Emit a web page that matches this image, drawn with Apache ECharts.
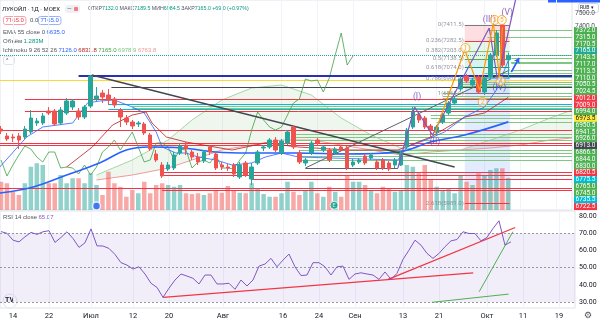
<!DOCTYPE html>
<html>
<head>
<meta charset="utf-8">
<script src="https://cdn.jsdelivr.net/npm/echarts@6/dist/echarts.min.js"></script>
<style>
  html, body { margin: 0; padding: 0; background: #fff; }
  #chart { width: 600px; height: 322px; }
</style>
</head>
<body>
<div id="chart"></div>
<script>
// ---- data (k = trading day index, 0 = 14 Jun) ----
var firstK = -2;
var opens = [6578,6522,6514,6522,6514,6554,6626,6626,6722,6722,6626,6706,6754,6722,6674,6762,6818,6866,6850,6818,
  6730,6666,6634,6618,6618,6530,6378,6290,6258,6266,6386,6450,6394,6354,6322,6434,6378,6290,6274,6290,
  6194,6306,6178,6306,6426,6434,6490,6386,6466,6594,6386,6306,6386,6490,6410,6410,6386,6434,6426,6290,
  6314,6362,6346,6314,6330,6306,6290,6290,6434,6594,6690,6666,6602,6554,6634,6706,6786,6898,7002,6930,
  6994,6874,6994,7170,7410,7132];
var closes = [6562,6498,6506,6490,6578,6666,6642,6682,6706,6618,6730,6802,6802,6674,6754,7002,6842,6834,6810,6770,
  6674,6634,6602,6626,6546,6418,6330,6202,6290,6370,6442,6418,6354,6314,6394,6394,6266,6274,6266,6218,
  6290,6210,6274,6394,6434,6490,6410,6482,6554,6434,6314,6330,6466,6466,6434,6330,6418,6410,6266,6314,
  6330,6306,6370,6266,6266,6258,6330,6386,6570,6714,6650,6594,6570,6594,6690,6786,6818,6978,6962,6970,
  6874,6986,7170,7346,7090,7165];
var lows = [6538,6482,6474,6418,6498,6538,6602,6610,6690,6602,6610,6690,6730,6650,6658,6746,6802,6786,6770,6746,
  6594,6610,6578,6594,6530,6402,6314,6186,6242,6250,6370,6370,6330,6290,6306,6370,6250,6250,6242,6194,
  6178,6194,6130,6290,6402,6418,6394,6370,6450,6418,6298,6282,6370,6442,6394,6314,6370,6394,6250,6274,
  6298,6290,6330,6250,6250,6242,6266,6282,6418,6578,6626,6578,6514,6530,6618,6690,6770,6882,6946,6914,
  6858,6850,6978,7154,7066,6984.5];
var highs = [6602,6546,6538,6546,6602,6730,6666,6706,6754,6738,6754,6826,6818,6746,6770,7010,6914,6890,6898,6834,
  6746,6690,6650,6642,6634,6546,6410,6314,6314,6394,6466,6474,6410,6386,6410,6450,6394,6314,6298,6306,
  6314,6322,6306,6410,6450,6506,6514,6498,6570,6610,6410,6346,6482,6506,6450,6426,6434,6450,6442,6338,
  6346,6378,6386,6330,6346,6322,6346,6402,6586,6754,6714,6682,6618,6610,6706,6802,6842,7002,7018,6986,
  7010,7002,7186,7370,7411.5,7189.5];
var volumes = [1.13,1.07,0.73,0.60,1.07,1.73,1.87,1.80,1.07,1.07,1.40,1.07,1.27,1.27,1.07,1.47,1.00,0.60,1.53,1.07,
  0.93,0.53,0.80,0.67,1.13,0.67,1.00,1.07,1.00,0.93,1.00,0.67,0.64,0.67,0.60,0.67,0.80,0.69,0.96,0.80,
  0.69,0.67,1.07,0.87,0.64,0.53,0.53,0.67,1.13,0.73,0.60,0.80,1.13,0.67,0.53,0.93,0.73,0.53,1.40,1.13,
  1.13,1.00,0.80,0.67,0.93,0.87,0.73,0.80,1.80,1.73,1.47,1.80,1.20,0.93,0.80,0.87,0.67,1.40,1.13,1.00,
  1.47,1.40,1.60,1.67,1.67,1.283];
var rsiValues = [71,70.0,66,65,68,70.5,69.4,70.9,71.5,64.7,67.6,70.9,67,61.8,64.5,72.6,62.7,62.6,61.2,57.7,
  52.9,51.5,49.2,50.5,46.3,40.9,38.5,32.7,38,42.8,46.3,45.1,43.8,40.5,45.7,45.7,40.5,40.5,40.9,37.4,
  42.8,39.3,42.8,50.9,52.1,55.4,50.5,54.4,57.9,50.5,45.4,45.7,52.9,52.9,50.5,45.7,50.5,50.9,43.2,46.3,
  47.0,46.3,45.7,43.2,47.5,43.2,46.7,54.8,60.2,66.0,63.1,58.3,55.4,58.3,62.2,65.6,66.4,70.9,69.9,69.9,
  65.6,67.6,72.8,77.3,63.1,65.07];

// indicator lines, [k, price]
var emaPts = [[-2.2,6066],[3.4,6114],[9,6210],[14.5,6306],[19,6410],[22.8,6434],[28.4,6426],[34,6394],
  [39.5,6386],[47.8,6386],[56,6378],[64.5,6394],[70,6474],[75.7,6530],[83,6635]];
var tenkanPts = [[-2.2,6274],[2.3,6514],[5,6594],[10,6626],[12.5,6786],[14.5,6802],[17,6810],[20,6754],
  [22,6706],[24,6554],[25,6434],[27.3,6386],[29,6386],[31,6354],[34,6330],[36.7,6290],[40,6306],[42.3,6354],
  [45,6386],[47.8,6354],[64.5,6330],[66,6434],[70,6506],[72.3,6554],[75.7,6674],[79,6754],[81,6890],[83,7126]];
var kijunPts = [[9,6274],[13.3,6434],[16.7,6610],[20,6690],[22.3,6714],[23.3,6626],[25.7,6514],[29,6474],
  [36.7,6410],[42.3,6466],[47.8,6434],[56,6410],[64.5,6410],[70,6514],[75.7,6674],[79,6706],[83,6831.8]];
var cloudK = [14,20,26,30,35,40,45,50,55,60,65,70,75,80,85,90,93.7];
var cloudA = [6210,6330,6490,6650,6810,6906,6930,6850,6666,6530,6426,6410,6410,6490,6570,6666,6730];
var cloudB = [6170,6210,6266,6330,6410,6450,6490,6490,6450,6410,6370,6394,6410,6426,6450,6490,6506];

// horizontal rays: price, kind, start k
var levelPrice = [7372,7315,7170.5,7143.5,7117,7113.5,7110,7050.5,7024.5,7012,7009,6994,6973.5,6950.5,6941.5,6926,
  6913,6866.5,6844,6830,6820.5,6775.5,6765,6745,6735.5,6722.5,
  6690,6666,6634,6570,6538,6514,6490,6466,6450,6410,6386,6362,6330,6234,6210,6178,6106,6090];
var levelKind = ['g','g','g','g','g','g','g','g','g','r','r','g','y','g','g','g',
  'd','g','g','g','r','c','g','g','c','r',
  'g','g','g','r','g','g','g','r','r','g','g','g','g','r','r','r','r','r'];
var levelStart = [79.5,79.5,83.5,83.5,83.5,83.5,83.5,83.5,79,13,13,77,-3,75,75,75,
  16.5,72,72,72,2,16,20,20,16,2,
  70,70,71,-3,47,47,47,-3,-3,48,48,48,48,25,25,40,-3,25];
var lowestAxisLabel = 6722.5;
var blueLevel = [11, 7002];

// trend lines [[k1,p1],[k2,p2]]
var trendDark = [[[13.2,7010],[74,6274]]];
var trendGray = [[[49,6266],[83.2,7050]], [[49,6266],[64.5,6266]]];
var waveI = [[64.5,6266],[67.3,6754],[70.3,6530],[79.8,7386],[81.2,6970],[84.2,7610]];
var waveLabels = ['(I)','(II)','(III)','(IV)','(V)'];
var waveLabelPts = [[67.7,6834],[70.7,6474],[79.8,7450],[81.5,6906],[82.8,7506]];
var wave1 = [[70.7,6546],[75.7,7210],[78.2,6890],[80.5,7426],[81.5,6994],[82,7394]];
var wave1Labels = ['1','2','3','4','5'];
var wave1LabelPts = [[75.8,7226],[78.7,6794],[80.7,7450],[81.7,6962],[81.9,7450]];
var arrowPts = [[83.5,7034],[84.8,7146]];
var eventPts = [[14, 5962], [53.8, 5968]];

// fib
var fibText = ['0(7411.5)','0.236(7282.5)','0.382(7203.0)','0.5(7138.5)','0.618(7074.0)','0.786(6982.0)','1(6865.0)','2.618(5981.0)'];
var fibPrice = [7411.5,7282.5,7203.0,7138.5,7074.0,6982.0,6865.0,5981.0];
var fibFromK = 75.7, fibToK = 83.2;
var posZone = [[75.7,6994],[83.3,6130],[5930]];

// RSI drawings
var rsiRed = [[[-2.2,75.3],[87.5,70.7]], [[25,32.7],[76.7,47.0]], [[62.5,43.2],[83.7,73.4]]];
var rsiGreen = [[[80.8,83.5],[83.7,54.4]], [[77.7,36],[83.3,70.9]], [[69.8,29.8],[82.6,34.6]]];

// x-axis tick labels
var tickK = [0,6,13,20,26,35,45,51,57,65,71,79,85,91];
var tickText = ['14','22','Июл','12','20','Авг','16','24','Сен','13','21','Окт','11','19'];

// ---- build ----
var TEAL = '#26A69A', RED = '#EF5350';
var xMin = -2.1667, xMax = 93.667;
var FONT = 'Roboto, "Liberation Sans", sans-serif';

var candleData = opens.map(function (o, i) {
  return [firstK + i, o, closes[i], lows[i], highs[i]];
});
var volumeData = volumes.map(function (v, i) {
  return { value: [firstK + i, v], itemStyle: { color: closes[i] >= opens[i] ? 'rgba(38,166,154,0.5)' : 'rgba(239,83,80,0.5)' } };
});
var rsiData = rsiValues.map(function (v, i) { return [firstK + i, v]; });
var chikouData = [];
for (var i = 0; i + 26 < closes.length; i++) chikouData.push([firstK + i, closes[i + 26]]);

var kindLine = { g: '#81C784', r: '#F23645', y: '#FDD835', d: '#434651', c: '#00BCD4' };
var levelData = levelPrice.map(function (p, i) { return [levelStart[i], p]; });

// label stack on the price scale
var lastClose = closes[closes.length - 1];
var stackItems = [];
levelPrice.forEach(function (p, i) { if (p >= lowestAxisLabel) stackItems.push([p, levelKind[i]]); });
stackItems.push([lastClose, 't']);
stackItems.sort(function (a, b) { return b[0] - a[0]; });
var stackSlots = ['', '', '', ''], stackKinds = ['', '', '', ''];
stackItems.forEach(function (s) { stackSlots.push(s[0].toFixed(1)); stackKinds.push(s[1]); });

function boxStyle(bg, fg) {
  return { backgroundColor: bg, color: fg || '#fff', fontSize: 6.5, lineHeight: 6.8, width: 21, align: 'center',
           padding: [0, 1, 0, 1], fontFamily: FONT };
}

function lineMarks(list, color, width) {
  return list.map(function (seg) {
    return [{ coord: seg[0], lineStyle: { color: color, width: width, type: 'solid' } }, { coord: seg[1] }];
  });
}

function textSeries(pts, texts, color, size, pos, xi, yi) {
  return {
    type: 'scatter', xAxisIndex: xi || 0, yAxisIndex: yi || 0, symbolSize: 0, silent: true, z: 12,
    data: pts.map(function (p, i) { return { value: p, name: texts[i] }; }),
    label: { show: true, formatter: '{b}', color: color, fontSize: size, position: pos, distance: 1, fontFamily: FONT }
  };
}

var fibAreaColors = ['rgba(242,54,69,0.16)','rgba(129,199,132,0.18)','rgba(76,175,80,0.14)','rgba(8,153,129,0.14)',
  'rgba(0,188,212,0.12)','rgba(100,181,246,0.12)'];
var fibLineColors = ['#787B86','#F23645','#81C784','#4CAF50','#089981','#64B5F6','#787B86','#F23645'];
var fibAreas = [];
for (var f = 0; f < fibAreaColors.length; f++) {
  fibAreas.push([{ coord: [fibFromK, fibPrice[f]], itemStyle: { color: fibAreaColors[f] } }, { coord: [fibToK, fibPrice[f + 1]] }]);
}
fibAreas.push([{ coord: [posZone[0][0], posZone[0][1]], itemStyle: { color: 'rgba(41,98,255,0.13)' } }, { coord: [posZone[1][0], posZone[1][1]] }]);
fibAreas.push([{ coord: [posZone[0][0], posZone[1][1]], itemStyle: { color: 'rgba(242,54,69,0.13)' } }, { coord: [posZone[1][0], posZone[2][0]] }]);
var fibLines = fibPrice.map(function (p, i) {
  return [{ coord: [fibFromK, p], lineStyle: { color: fibLineColors[i], width: 1, type: 'solid' } }, { coord: [fibToK, p] }];
});

var option = {
  animation: false,
  textStyle: { fontFamily: FONT },
  grid: [
    { left: 0, right: 25, top: 0, height: 210, show: true, borderColor: '#E0E3EB', borderWidth: 1 },
    { left: 0, right: 25, top: 211, height: 97, show: true, borderColor: '#E0E3EB', borderWidth: 1 }
  ],
  xAxis: [
    { type: 'value', gridIndex: 0, min: xMin, max: xMax, axisLine: { show: false },
      axisTick: { show: false, customValues: tickK }, axisLabel: { show: false, customValues: tickK },
      splitLine: { show: true, lineStyle: { color: '#F0F3FA' } } },
    { type: 'value', gridIndex: 1, min: xMin, max: xMax, axisLine: { show: false },
      axisTick: { show: false, customValues: tickK },
      axisLabel: { customValues: tickK, fontSize: 7.5, color: '#131722', margin: 4,
        formatter: function (v) { var j = tickK.indexOf(Math.round(v)); return j >= 0 ? tickText[j] : ''; } },
      splitLine: { show: true, lineStyle: { color: '#F0F3FA' } } }
  ],
  yAxis: [
    { type: 'value', gridIndex: 0, position: 'right', min: 5930, max: 7610, scale: true,
      axisLine: { show: false }, axisTick: { show: false }, splitLine: { show: false },
      axisLabel: { customValues: [7400, 7500], fontSize: 6.5, color: '#50535E', margin: 3,
        formatter: function (v) { return v.toFixed(1); } } },
    { type: 'value', gridIndex: 0, min: 0, max: 8.4, show: false },
    { type: 'category', gridIndex: 0, position: 'right', inverse: true, data: stackSlots,
      axisLine: { show: false }, axisTick: { show: false }, splitLine: { show: false },
      axisLabel: { interval: 0, margin: 2, hideOverlap: false,
        formatter: function (v, idx) { return v ? '{' + stackKinds[idx] + '|' + v + '}' : ''; },
        rich: { g: boxStyle('#4CAF50'), r: boxStyle('#F23645'), y: boxStyle('#FFEB3B', '#131722'),
                d: boxStyle('#434651'), c: boxStyle('#00BCD4'), t: boxStyle('#22AB94') } } },
    { type: 'value', gridIndex: 1, position: 'right', min: 26.5, max: 83,
      axisLine: { show: false }, axisTick: { show: false }, splitLine: { show: false },
      axisLabel: { customValues: [30, 40, 50, 60, 70, 80], fontSize: 7, color: '#131722', margin: 4,
        formatter: function (v) { return v.toFixed(2); } } }
  ],
  series: [
    { // ichimoku cloud
      type: 'custom', xAxisIndex: 0, yAxisIndex: 0, silent: true, clip: true, z: 1,
      data: cloudK.map(function (k, i) { return [k, cloudA[i], cloudB[i]]; }),
      encode: { x: 0, y: [1, 2] },
      renderItem: function (params, api) {
        var i = params.dataIndex;
        if (i >= cloudK.length - 1) return;
        var a1 = api.coord([cloudK[i], cloudA[i]]), a2 = api.coord([cloudK[i + 1], cloudA[i + 1]]);
        var b2 = api.coord([cloudK[i + 1], cloudB[i + 1]]), b1 = api.coord([cloudK[i], cloudB[i]]);
        var up = cloudA[i] + cloudA[i + 1] >= cloudB[i] + cloudB[i + 1];
        return { type: 'group', children: [
          { type: 'polygon', shape: { points: [a1, a2, b2, b1] }, style: { fill: up ? 'rgba(67,160,71,0.09)' : 'rgba(244,67,54,0.09)' } },
          { type: 'line', shape: { x1: a1[0], y1: a1[1], x2: a2[0], y2: a2[1] }, style: { stroke: '#A5D6A7', lineWidth: 1 } },
          { type: 'line', shape: { x1: b1[0], y1: b1[1], x2: b2[0], y2: b2[1] }, style: { stroke: '#EF9A9A', lineWidth: 1 } }
        ] };
      }
    },
    { type: 'bar', name: 'Объём', xAxisIndex: 0, yAxisIndex: 1, data: volumeData, barWidth: 4.5, z: 2, silent: true },
    { // horizontal rays
      type: 'custom', xAxisIndex: 0, yAxisIndex: 0, silent: true, clip: true, z: 3,
      data: levelData, encode: { x: 0, y: 1 },
      renderItem: function (params, api) {
        var s = api.coord([api.value(0), api.value(1)]);
        var e = api.coord([xMax, api.value(1)]);
        var y = Math.round(s[1]) + 0.5;
        return { type: 'line', shape: { x1: s[0], y1: y, x2: e[0], y2: y },
                 style: { stroke: kindLine[levelKind[params.dataIndex]], lineWidth: 1 } };
      }
    },
    { type: 'line', xAxisIndex: 0, yAxisIndex: 0, data: chikouData, showSymbol: false, silent: true, z: 4,
      lineStyle: { color: '#43A047', width: 0.8 } },
    { type: 'line', xAxisIndex: 0, yAxisIndex: 0, data: kijunPts, showSymbol: false, silent: true, z: 4,
      lineStyle: { color: '#B71C1C', width: 0.8 } },
    { type: 'line', xAxisIndex: 0, yAxisIndex: 0, data: tenkanPts, showSymbol: false, silent: true, z: 4,
      lineStyle: { color: '#2962FF', width: 0.8 } },
    { type: 'line', name: 'EMA 55', xAxisIndex: 0, yAxisIndex: 0, data: emaPts, showSymbol: false, silent: true, z: 4,
      smooth: 0.4, lineStyle: { color: '#2962FF', width: 1.6 } },
    {
      type: 'candlestick', name: 'ЛУКОЙЛ', xAxisIndex: 0, yAxisIndex: 0, data: candleData,
      encode: { x: 0, y: [1, 2, 3, 4] }, barWidth: 4, z: 5, silent: true,
      itemStyle: { color: TEAL, color0: RED, borderColor: TEAL, borderColor0: RED, borderWidth: 1 },
      markArea: { silent: true, data: fibAreas },
      markLine: { silent: true, symbol: ['none', 'none'], label: { show: false }, animation: false,
        data: [
          [{ coord: blueLevel, lineStyle: { color: '#2A2EB8', width: 2, type: 'solid' } }, { coord: [xMax, blueLevel[1]] }],
          [{ coord: [xMin, lastClose], lineStyle: { color: TEAL, width: 1, type: 'dotted' } }, { coord: [xMax, lastClose] }]
        ].concat(lineMarks(trendDark, '#434651', 1.3))
         .concat(lineMarks(trendGray, '#5D606B', 1))
         .concat(fibLines) }
    },
    { type: 'line', xAxisIndex: 0, yAxisIndex: 0, data: waveI, showSymbol: false, silent: true, z: 6,
      lineStyle: { color: '#7E57C2', width: 1.2 } },
    { type: 'line', xAxisIndex: 0, yAxisIndex: 0, data: wave1, showSymbol: false, silent: true, z: 6,
      lineStyle: { color: '#FF9800', width: 1.2 } },
    { type: 'line', xAxisIndex: 0, yAxisIndex: 0, data: arrowPts, showSymbol: false, silent: true, z: 6,
      lineStyle: { color: '#2962FF', width: 1.5 },
      markLine: { silent: true, symbol: ['none', 'arrow'], symbolSize: 5, label: { show: false },
        data: [[{ coord: arrowPts[0], lineStyle: { color: '#2962FF', width: 1.5, type: 'solid' } }, { coord: arrowPts[1] }]] } },
    textSeries(waveLabelPts, waveLabels, '#673AB7', 8.5, 'inside'),
    { type: 'scatter', xAxisIndex: 0, yAxisIndex: 0, symbol: 'circle', symbolSize: 9, silent: true, z: 13,
      itemStyle: { color: 'rgba(255,255,255,0.6)', borderColor: '#FF9800', borderWidth: 1 },
      data: wave1LabelPts.map(function (p, i) { return { value: p, name: wave1Labels[i] }; }),
      label: { show: true, formatter: '{b}', position: 'inside', color: '#FF9800', fontSize: 6.5, fontFamily: FONT } },
    textSeries(fibPrice.map(function (p) { return [fibFromK, p]; }), fibText, '#787B86', 6, 'left'),
    { type: 'scatter', xAxisIndex: 0, yAxisIndex: 0, symbol: 'circle', symbolSize: 8, silent: true, z: 13,
      data: [
        { value: eventPts[0], itemStyle: { color: '#2962FF', borderColor: '#fff', borderWidth: 1.5 } },
        { value: eventPts[1], itemStyle: { color: '#089981', borderColor: '#fff', borderWidth: 1 },
          label: { show: true, formatter: 'E', position: 'inside', color: '#fff', fontSize: 5.5 } }
      ] },
    { // RSI
      type: 'line', name: 'RSI', xAxisIndex: 1, yAxisIndex: 3, data: rsiData, showSymbol: false, silent: true, z: 5,
      lineStyle: { color: '#7E57C2', width: 1 },
      markArea: { silent: true, itemStyle: { color: 'rgba(126,87,194,0.1)' }, data: [[{ yAxis: 30 }, { yAxis: 70 }]] },
      markLine: { silent: true, symbol: ['none', 'none'], label: { show: false },
        data: [70, 50, 30].map(function (v) { return { yAxis: v, lineStyle: { color: '#9598A1', type: [2, 2], width: 1 } }; })
          .concat(lineMarks(rsiRed, '#F23645', 1.3))
          .concat(lineMarks(rsiGreen, '#4CAF50', 1)) }
    }
  ],
  graphic: [
    { type: 'rect', right: 0, top: 0, shape: { width: 52, height: 2.5 }, style: { fill: '#2962FF' } },
    { type: 'rect', left: 578, top: 3, shape: { width: 20, height: 9, r: 2 }, style: { fill: '#fff', stroke: '#D1D4DC' } },
    { type: 'text', left: 580, top: 5, style: { text: 'RUB ▾', fontSize: 5, fill: '#131722', fontFamily: FONT } },
    { type: 'text', left: 2, top: 6, style: { text: 'ЛУКОЙЛ · 1Д · MOEX', fontSize: 6, fill: '#131722', fontFamily: FONT } },
    { type: 'rect', left: 65, top: 5, shape: { width: 15, height: 8, r: 3 }, style: { fill: '#EEF0F4' } },
    { type: 'text', left: 67, top: 5.5, style: { text: '—', fontSize: 6, fill: '#50535E', fontFamily: FONT } },
    { type: 'rect', left: 74, top: 7, shape: { width: 4, height: 4, r: 1 }, style: { fill: '#F77C80' } },
    { type: 'text', left: 88, top: 6.5, style: { fontFamily: FONT, fontSize: 5.3,
      text: '{l|ОТКР}{v|7132.0} {l|МАКС}{v|7189.5} {l|МИН}{v|6984.5} {l|ЗАКР}{v|7165.0} {v|+69.0 (+0.97%)}',
      rich: { l: { fill: '#50535E', fontSize: 5.3 }, v: { fill: '#089981', fontSize: 5.3 } } } },
    { type: 'text', left: 3, top: 16, style: { text: '7165.0', fontSize: 6, fill: '#F23645', fontFamily: FONT,
      borderColor: '#F7A1A8', borderWidth: 1, borderRadius: 2, padding: [1, 2, 1, 2] } },
    { type: 'text', left: 30, top: 17, style: { text: '0.0', fontSize: 6, fill: '#50535E', fontFamily: FONT } },
    { type: 'text', left: 38, top: 16, style: { text: '7165.0', fontSize: 6, fill: '#2962FF', fontFamily: FONT,
      borderColor: '#9DB2F5', borderWidth: 1, borderRadius: 2, padding: [1, 2, 1, 2] } },
    { type: 'text', left: 3, top: 29, style: { fontFamily: FONT, fontSize: 6,
      text: '{l|EMA 55 close 0} {b|6635.0}', rich: { l: { fill: '#50535E', fontSize: 6 }, b: { fill: '#2962FF', fontSize: 6 } } } },
    { type: 'text', left: 3, top: 38, style: { fontFamily: FONT, fontSize: 6,
      text: '{l|Объём} {t|1.283M}', rich: { l: { fill: '#50535E', fontSize: 6 }, t: { fill: '#089981', fontSize: 6 } } } },
    { type: 'text', left: 3, top: 47, style: { fontFamily: FONT, fontSize: 6,
      text: '{l|Ichimoku 9 26 52 26} {a|7126.0} {b|6831.8} {c|7165.0} {d|6978.9} {e|6763.8}',
      rich: { l: { fill: '#50535E', fontSize: 6 }, a: { fill: '#2962FF', fontSize: 6 }, b: { fill: '#B71C1C', fontSize: 6 },
              c: { fill: '#43A047', fontSize: 6 }, d: { fill: '#81C784', fontSize: 6 }, e: { fill: '#EF9A9A', fontSize: 6 } } } },
    { type: 'rect', left: 3, top: 56, shape: { width: 11, height: 8, r: 2 }, style: { fill: '#fff', stroke: '#E0E3EB' } },
    { type: 'text', left: 6, top: 57, style: { text: '^', fontSize: 6, fill: '#50535E', fontFamily: FONT } },
    { type: 'text', left: 3, top: 214, style: { fontFamily: FONT, fontSize: 6,
      text: '{l|RSI 14 close} {p|65.07}', rich: { l: { fill: '#50535E', fontSize: 6 }, p: { fill: '#7E57C2', fontSize: 6 } } } },
    { type: 'circle', shape: { cx: 10, cy: 301, r: 7 }, style: { fill: '#fff', stroke: '#E0E3EB' } },
    { type: 'text', left: 5, top: 297, style: { text: 'TV', fontSize: 7, fontWeight: 'bold', fill: '#131722', fontFamily: FONT } },
    { type: 'text', left: 584, top: 311, style: { text: '⚙', fontSize: 9, fill: '#50535E', fontFamily: 'DejaVu Sans' } }
  ]
};

var chart = echarts.init(document.getElementById('chart'));
chart.setOption(option);
</script>
</body>
</html>
